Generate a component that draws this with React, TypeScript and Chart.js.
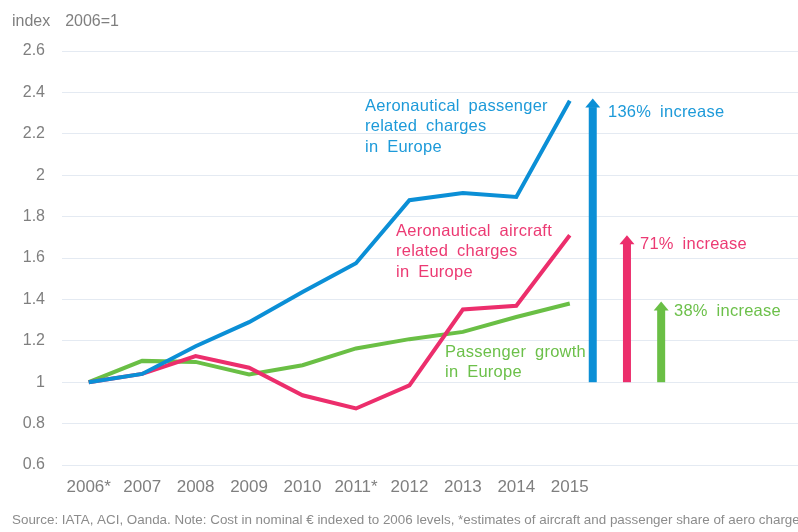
import React, { useEffect, useRef } from "react";
import { Chart, registerables } from "chart.js";

Chart.register(...registerables);

const years = ["2006*", "2007", "2008", "2009", "2010", "2011*", "2012", "2013", "2014", "2015"];
const passengerCharges = [1.0, 1.04, 1.174, 1.29, 1.436, 1.575, 1.879, 1.914, 1.895, 2.36];
const aircraftCharges = [1.0, 1.04, 1.126, 1.07, 0.937, 0.873, 0.985, 1.351, 1.369, 1.71];
const passengerGrowth = [1.0, 1.103, 1.098, 1.037, 1.082, 1.163, 1.208, 1.243, 1.315, 1.38];

const yMin = 0.6;
const yMax = 2.6;
const yStep = 0.2;

const arrowBase = 1;
const arrowPositions = [9.43, 10.07, 10.71];
const arrowTops = [2.37, 1.71, 1.39];
const arrowLabels = ["136% increase", "71% increase", "38% increase"];

const seriesLabels = [
  ["Aeronautical passenger", "related charges", "in Europe"],
  ["Aeronautical aircraft", "related charges", "in Europe"],
  ["Passenger growth", "in Europe"],
];

const axisTitle = "index  2006=1";
const sourceNote =
  "Source: IATA, ACI, Oanda. Note: Cost in nominal € indexed to 2006 levels, *estimates of aircraft and passenger share of aero charges";

const COLORS = ["#0b8fd6", "#ec2e6c", "#6abf45"];
const TEXT_COLORS = ["#1d9ad9", "#ec3a73", "#6cc04a"];
const GRAY = "#7f7f7f";
const FONT = "Arial, 'Liberation Sans', sans-serif";

// text layout (pixels)
const seriesLabelPos = [
  { x: 365, y: 106 },
  { x: 396, y: 231 },
  { x: 445, y: 352 },
];
const arrowLabelPos = [
  { x: 608, y: 112 },
  { x: 640, y: 244 },
  { x: 674, y: 311 },
];

const toPoints = (vals: number[]) => vals.map((v, i) => ({ x: i, y: v }));

export default function App() {
  const ref = useRef<HTMLCanvasElement | null>(null);

  useEffect(() => {
    if (!ref.current) return;

    const overlay = {
      id: "overlay",
      afterDatasetsDraw(chart: any) {
        const ctx = chart.ctx;
        const xs = chart.scales.x;
        const ys = chart.scales.y;
        ctx.save();
        arrowPositions.forEach((av, i) => {
          const px = xs.getPixelForValue(av);
          const pb = ys.getPixelForValue(arrowBase);
          const pt = ys.getPixelForValue(arrowTops[i]);
          const headH = 9;
          const headW = 15;
          const shaftW = 8;
          ctx.fillStyle = COLORS[i];
          ctx.fillRect(px - shaftW / 2, pt + headH - 0.5, shaftW, pb - pt - headH + 0.5);
          ctx.beginPath();
          ctx.moveTo(px, pt);
          ctx.lineTo(px + headW / 2, pt + headH);
          ctx.lineTo(px - headW / 2, pt + headH);
          ctx.closePath();
          ctx.fill();
        });
        ctx.restore();
      },
      afterDraw(chart: any) {
        const ctx = chart.ctx as any;
        ctx.save();
        ctx.textBaseline = "middle";
        ctx.textAlign = "left";
        ctx.wordSpacing = "4px";
        ctx.letterSpacing = "0.25px";
        ctx.font = `16.5px ${FONT}`;
        seriesLabels.forEach((lines, i) => {
          ctx.fillStyle = TEXT_COLORS[i];
          lines.forEach((t, j) => {
            ctx.fillText(t, seriesLabelPos[i].x, seriesLabelPos[i].y + j * 20.5);
          });
        });
        arrowLabels.forEach((t, i) => {
          ctx.fillStyle = TEXT_COLORS[i];
          ctx.fillText(t, arrowLabelPos[i].x, arrowLabelPos[i].y);
        });
        ctx.wordSpacing = "3px";
        ctx.letterSpacing = "0px";
        ctx.fillStyle = GRAY;
        ctx.font = `16px ${FONT}`;
        ctx.fillText(axisTitle, 12, 22);
        ctx.wordSpacing = "0px";
        ctx.fillStyle = "#8c8c8c";
        ctx.font = `13.4px ${FONT}`;
        ctx.fillText(sourceNote, 12, 520);
        ctx.restore();
      },
    };

    const chart = new Chart(ref.current, {
      type: "line",
      data: {
        datasets: [
          {
            label: "Aeronautical passenger related charges in Europe",
            data: toPoints(passengerCharges),
            borderColor: COLORS[0],
            backgroundColor: COLORS[0],
            borderWidth: 4,
            pointRadius: 0,
            tension: 0,
          },
          {
            label: "Aeronautical aircraft related charges in Europe",
            data: toPoints(aircraftCharges),
            borderColor: COLORS[1],
            backgroundColor: COLORS[1],
            borderWidth: 4,
            pointRadius: 0,
            tension: 0,
          },
          {
            label: "Passenger growth in Europe",
            data: toPoints(passengerGrowth),
            borderColor: COLORS[2],
            backgroundColor: COLORS[2],
            borderWidth: 4,
            pointRadius: 0,
            tension: 0,
          },
        ],
      },
      options: {
        animation: false,
        responsive: false,
        devicePixelRatio: 1,
        layout: { padding: { top: 51, left: 0, right: 0, bottom: 27 } },
        plugins: {
          legend: { display: false },
          tooltip: { enabled: false },
        },
        scales: {
          x: {
            type: "linear",
            min: -0.5,
            max: 13.27,
            grid: { display: false, drawTicks: false },
            border: { display: false },
            afterBuildTicks: (scale: any) => {
              scale.ticks = years.map((_, i) => ({ value: i }));
            },
            afterFit: (scale: any) => {
              scale.height = 40;
            },
            ticks: {
              autoSkip: false,
              maxRotation: 0,
              padding: 12,
              color: GRAY,
              font: { family: FONT, size: 17 },
              callback: (v: any) => years[v] ?? "",
            },
          },
          y: {
            min: yMin,
            max: yMax,
            grid: { color: "#e4eaf2", lineWidth: 1, drawTicks: false },
            border: { display: false },
            afterFit: (scale: any) => {
              scale.width = 62;
            },
            ticks: {
              stepSize: yStep,
              padding: 17,
              color: GRAY,
              font: { family: FONT, size: 16 },
              callback: (v: any) => String(Number(Number(v).toFixed(1))),
            },
          },
        },
      },
      plugins: [overlay],
    });

    return () => chart.destroy();
  }, []);

  return (
    <div style={{ position: "fixed", left: 0, top: 0, width: 798, height: 532, background: "#fff" }}>
      <canvas ref={ref} width={798} height={532} style={{ display: "block" }} />
    </div>
  );
}
